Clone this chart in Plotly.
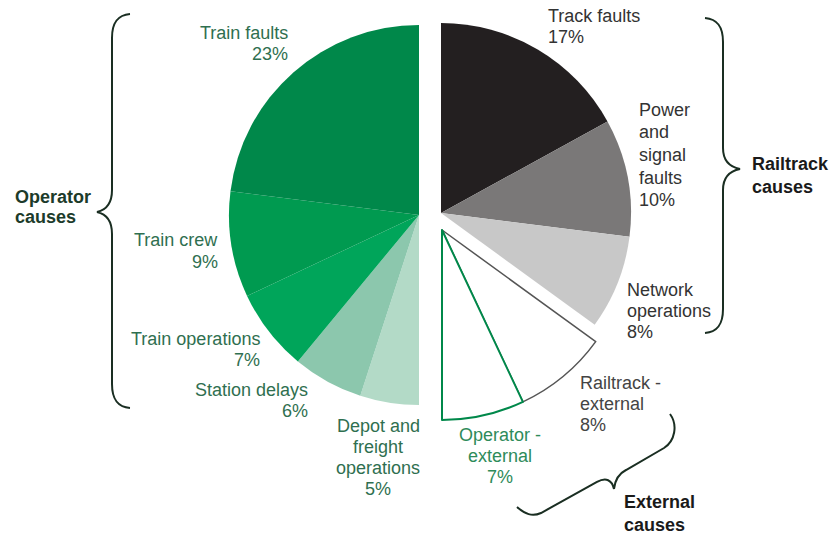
import plotly.graph_objects as go

W, H = 831, 536

# data (percent of delay minutes), clockwise from 12 o'clock
railtrack_causes = ["Track faults", "Power and signal faults", "Network operations"]
railtrack_values = [17, 10, 8]
external_causes = ["Railtrack - external", "Operator - external"]
external_values = [8, 7]
operator_causes = ["Depot and freight operations", "Station delays",
                   "Train operations", "Train crew", "Train faults"]
operator_values = [5, 6, 7, 9, 23]

railtrack_colors = ["#231f20", "#7a7878", "#c8c8c8"]
external_colors = ["#ffffff", "#ffffff"]
external_lines = ["#555555", "#00884a"]
operator_colors = ["#b3dac7", "#8cc7ad", "#00a55a", "#009a50", "#00884a"]

CLEAR = "rgba(0,0,0,0)"


def domain(cx, cy, r):
    return dict(x=[(cx - r) / W, (cx + r) / W],
                y=[1 - (cy + r) / H, 1 - (cy - r) / H])


def px(x):
    return x / W


def py(y):
    return 1 - y / H


n_rail = sum(railtrack_values)
n_ext = sum(external_values)

fig = go.Figure()

# railtrack group
fig.add_trace(go.Pie(
    labels=railtrack_causes + ["_rest"],
    values=railtrack_values + [100 - n_rail],
    marker=dict(colors=railtrack_colors + [CLEAR], line=dict(width=0)),
    domain=domain(441, 213, 190),
))

# operator group
fig.add_trace(go.Pie(
    labels=["_rest"] + operator_causes,
    values=[100 - sum(operator_values)] + operator_values,
    marker=dict(colors=[CLEAR] + operator_colors, line=dict(width=0)),
    domain=domain(419, 215, 190),
))

# external group
fig.add_trace(go.Pie(
    labels=["_rest1"] + external_causes + ["_rest2"],
    values=[n_rail] + external_values + [100 - n_rail - n_ext],
    marker=dict(colors=[CLEAR] + external_colors + [CLEAR],
                line=dict(color=[CLEAR] + external_lines + [CLEAR],
                          width=[0, 1.5, 2, 0])),
    domain=domain(442, 230, 190),
))

fig.update_traces(sort=False, direction="clockwise", rotation=0,
                  textinfo="none", hoverinfo="skip", showlegend=False)

GREEN_TXT = "#2f6f50"
GREY_TXT = "#333333"
annotations = []


def label(lines, x, y0, dy, anchor, color, size=18, bold=False):
    for i, t in enumerate(lines):
        annotations.append(dict(
            x=px(x), y=py(y0 + i * dy), xref="paper", yref="paper",
            text="<b>%s</b>" % t if bold else t, showarrow=False,
            xanchor=anchor, yanchor="middle", align=anchor,
            font=dict(size=size, color=color,
                      family="Liberation Sans, Arial, sans-serif"),
        ))


label(["Train faults", "23%"], 290, 33, 21, "right", GREEN_TXT)
label(["Train crew", "9%"], 220, 240, 22, "right", GREEN_TXT)
label(["Train operations", "7%"], 262, 339, 21, "right", GREEN_TXT)
label(["Station delays", "6%"], 310, 390, 21, "right", GREEN_TXT)
label(["Depot and", "freight", "operations", "5%"], 378, 426, 21, "center", GREEN_TXT)
label(["Track faults", "17%"], 546, 16, 21, "left", GREY_TXT)
label(["Power", "and", "signal", "faults", "10%"], 637, 110, 22.5, "left", GREY_TXT)
label(["Network", "operations", "8%"], 625, 290, 21, "left", GREY_TXT)
label(["Railtrack -", "external", "8%"], 578, 383, 21, "left", "#444444")
label(["Operator -", "external", "7%"], 500, 435, 21, "center", "#2e8b5a")
label(["Operator", "causes"], 13, 197, 20, "left", "#1c3b2a", bold=True)
label(["Railtrack", "causes"], 750, 164, 23, "left", "#1a1a1a", bold=True)
label(["External", "causes"], 622, 502, 23, "left", "#1a1a1a", bold=True)


def path(pts):
    # pts: list of ("M"/"L"/"C", [x, y, ...]) in pixels
    out = []
    for cmd, xy in pts:
        coords = " ".join("%.5f,%.5f" % (px(xy[i]), py(xy[i + 1]))
                          for i in range(0, len(xy), 2))
        out.append(cmd + " " + coords)
    return " ".join(out)


braces = [
    [("M", [130, 14]), ("C", [118, 15, 112, 22, 112, 38]), ("L", [112, 190]),
     ("C", [112, 204, 106, 210, 97, 212]), ("C", [106, 214, 112, 220, 112, 234]),
     ("L", [112, 384]), ("C", [112, 400, 118, 407, 130, 408])],
    [("M", [705, 18]), ("C", [717, 19, 723, 26, 723, 42]), ("L", [723, 148]),
     ("C", [723, 161, 730, 167, 740, 169]), ("C", [730, 171, 723, 177, 723, 190]),
     ("L", [723, 309]), ("C", [723, 325, 717, 332, 705, 333])],
    [("M", [517, 507]), ("C", [525, 514, 532, 517, 541, 513]), ("L", [597, 482]),
     ("C", [606, 477, 612, 480, 614, 489]), ("C", [615, 480, 618, 474, 626, 470]),
     ("L", [664, 448]), ("C", [675, 441, 678, 425, 670, 414])],
]
shapes = [dict(type="path", xref="paper", yref="paper", path=path(b),
               line=dict(color="#1a2e22", width=2)) for b in braces]

fig.update_layout(
    width=W, height=H,
    margin=dict(l=0, r=0, t=0, b=0),
    paper_bgcolor="white", plot_bgcolor="white",
    annotations=annotations, shapes=shapes,
)

# drop the page's default body margin so the figure sits at the window corner
fig.write_html("out.html", config={"displayModeBar": False},
               post_script="document.body.style.margin='0';"
                           "document.body.style.overflow='hidden';")
